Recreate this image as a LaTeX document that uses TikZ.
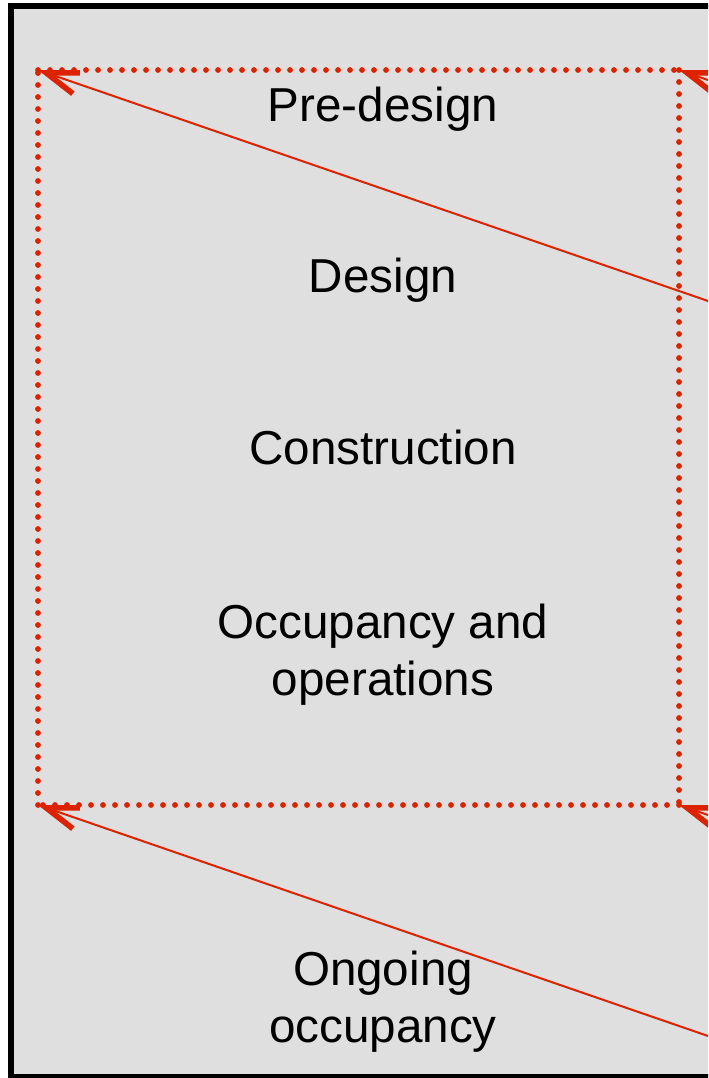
\documentclass[tikz,border=0pt]{standalone}
\usepackage{fontspec}
\setmainfont{Liberation Sans}
\usetikzlibrary{arrows.meta}
\definecolor{phasered}{RGB}{221,34,0}
\definecolor{panelgray}{RGB}{223,223,223}

\begin{document}
\begin{tikzpicture}[x=0.5pt,y=-0.5pt,
        phase/.style={font=\fontsize{23.8}{28.5}\selectfont, align=center, anchor=base, inner sep=0pt},
        link/.style={draw=phasered, line width=1pt, -{Straight Barb[length=16pt,width=11pt,line width=2.8pt]}},
        span/.style={draw=phasered, line width=2.9pt, line cap=round, dash pattern=on 0pt off 6pt}]
        \useasboundingbox (0,0) rectangle (708,1078);
        \clip (0,0) rectangle (708,1078);
        \draw[line width=3pt, fill=panelgray] (11,6) rectangle (730,1077);
        % corners of the dotted frame
        \coordinate (tl) at (38,70);
        \coordinate (tr) at (679,70);
        \coordinate (bl) at (38,805);
        \coordinate (br) at (679,805);
        \draw[span] (tl) -- (tr);
        \draw[span] (tr) -- (br);
        \draw[span] (br) -- (bl);
        \draw[span] (bl) -- (tl);
        % phase labels (base = last line)
        \node[phase] (predesign) at (383,121.5) {Pre-design};
        \node[phase] (design) at (383,292.5) {Design};
        \node[phase] (construction) at (383,464) {Construction};
        \node[phase] (occupancy) at (383,695) {Occupancy and\\operations};
        \node[phase] (ongoing) at (383,1042) {Ongoing\\occupancy};
        % links coming in from the right
        \coordinate (inA) at (740,312);
        \coordinate (inB) at (740,1047);
        \coordinate (inC) at (780,104.8);
        \coordinate (inD) at (780,839.8);
        \draw[link] (inA) -- (tl);
        \draw[link] (inB) -- (bl);
        \draw[link] (inC) -- (tr);
        \draw[link] (inD) -- (br);
\end{tikzpicture}
\end{document}
